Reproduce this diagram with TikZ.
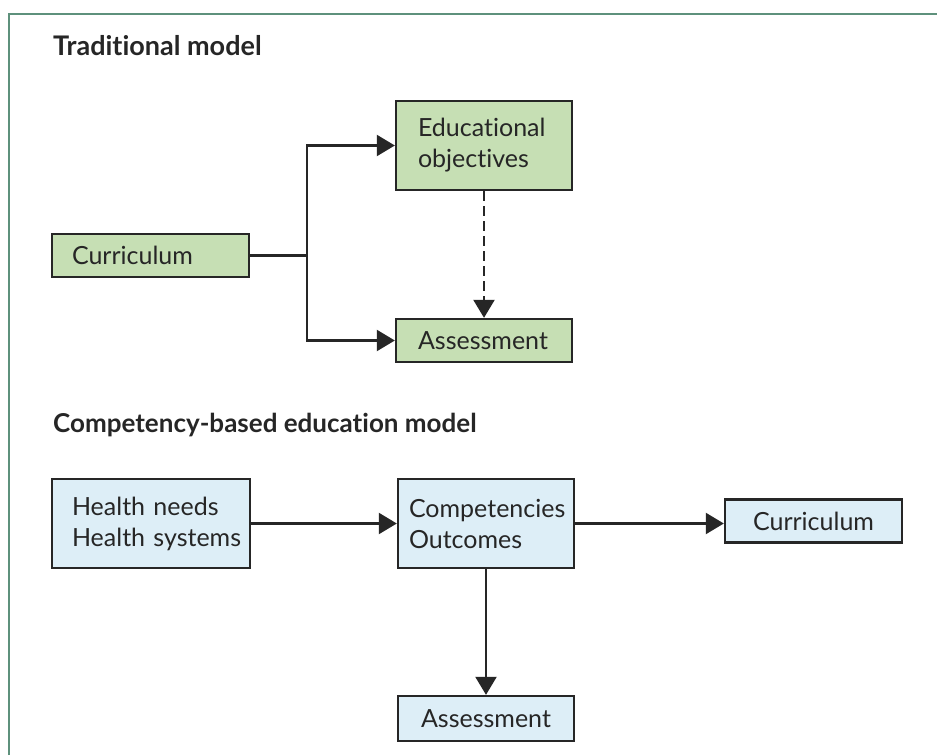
\documentclass[tikz,border=0pt]{standalone}
\usepackage{fontspec}
\setmainfont{Lato}[Ligatures=NoCommon]
\usetikzlibrary{arrows.meta}

\definecolor{framegreen}{HTML}{5E917C}
\definecolor{boxgreen}{HTML}{C6DFB4}
\definecolor{boxblue}{HTML}{DDEEF7}
\definecolor{ink}{HTML}{262626}

\begin{document}
\begin{tikzpicture}[x=1pt, y=-1pt,
  heading/.style={text=ink, inner sep=0pt, anchor=base west,
    font=\fontsize{26}{30}\selectfont\bfseries},
  boxbase/.style={draw=ink, line width=2.4pt, text=ink, inner ysep=0pt,
    font=\fontsize{25}{31}\selectfont},
  greenbox/.style={boxbase, fill=boxgreen},
  bluebox/.style={boxbase, fill=boxblue},
  leftbox/.style 2 args={text width=#1-2*#2, inner xsep=#2, align=left},
  midbox/.style={minimum width=#1, inner xsep=0pt, align=center},
  conn/.style={draw=ink, line width=2.2pt},
  arr/.style={conn, -{Triangle[length=18pt, width=21pt]}},
  dasharr/.style={arr, dash pattern=on 10pt off 5pt}
]
\useasboundingbox (0,0) rectangle (937,755);
\fill[white] (0,0) rectangle (937,755);

% panel frame (top and left rules)
\draw[framegreen, line width=2pt] (9,755) -- (9,14) -- (937,14);

% ---- Traditional model ----
\node[heading, font=\fontsize{27}{31}\selectfont\bfseries] (titleA) at (53,55) {Traditional model};

\node[greenbox, leftbox={197pt}{20pt}, minimum height=43pt]
  (curA) at (150.5,255.5) {Curriculum};
\node[greenbox, leftbox={176pt}{22pt}, minimum height=89pt]
  (objA) at (484,145.5) {Educational\\objectives};
\node[greenbox, leftbox={176pt}{22pt}, minimum height=43pt]
  (assA) at (484,340.5) {Assessment};

\coordinate (split) at (307,255.5);
\draw[conn] (curA.east) -- (split);
\draw[arr] (split) |- (objA.west);
\draw[arr] (split) |- (assA.west);
\draw[dasharr] (objA.south) -- (assA.north);

% ---- Competency-based education model ----
\node[heading] (titleB) at (53,432) {Competency-based education model};

\node[bluebox, leftbox={198pt}{20pt}, minimum height=89pt]
  (needs) at (151,523.5) {\mbox{Health needs}\\\mbox{Health systems}};
\node[bluebox, leftbox={176pt}{11pt}, minimum height=89pt]
  (comp) at (486,523.5) {\mbox{Competencies}\\\mbox{Outcomes}};
\node[bluebox, midbox=177pt, minimum height=43pt]
  (curB) at (813.5,521) {Curriculum};
\node[bluebox, midbox=176pt, minimum height=45pt]
  (assB) at (486,718.5) {Assessment};

\draw[arr] (needs.east) -- (comp.west);
\draw[arr] (comp.east) -- (comp.east -| curB.west);
\draw[arr] (comp.south) -- (assB.north);
\end{tikzpicture}
\end{document}
